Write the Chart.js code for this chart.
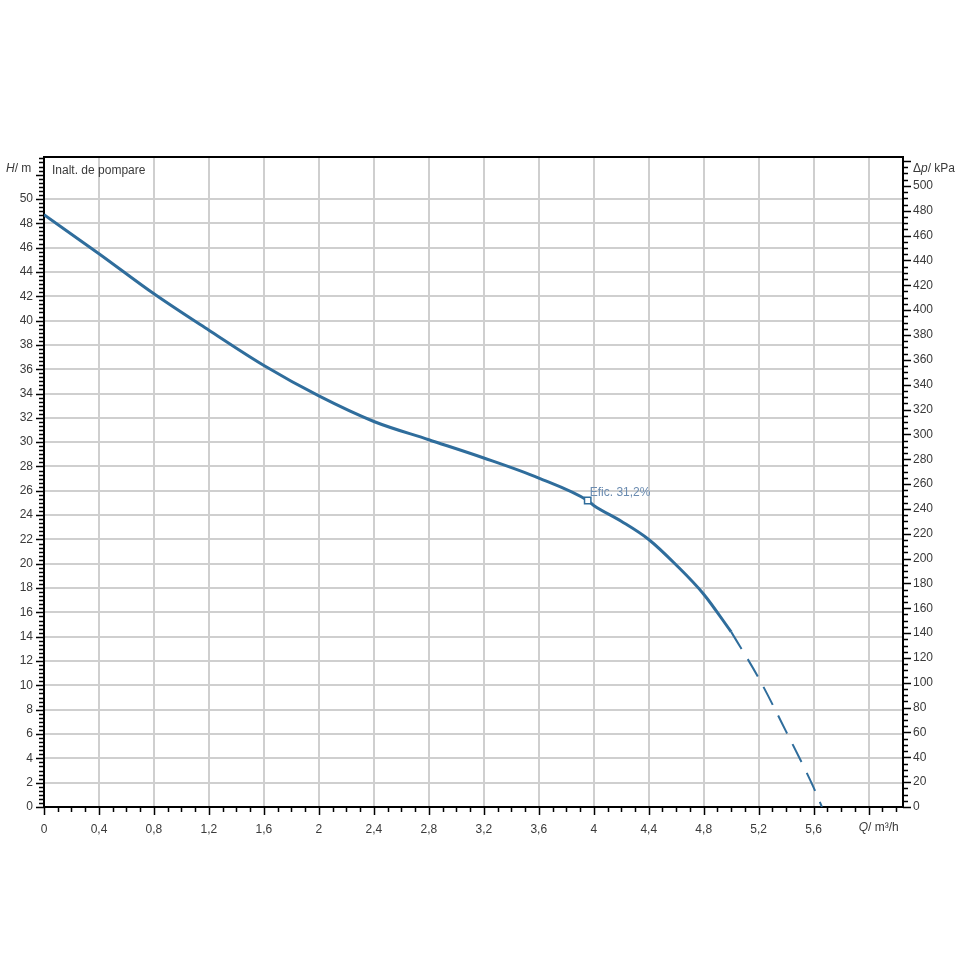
<!DOCTYPE html>
<html><head><meta charset="utf-8">
<script src="https://cdn.jsdelivr.net/npm/chart.js@4"></script>
<style>html,body{margin:0;padding:0;background:#fff}</style>
</head><body>
<canvas id="c" width="960" height="960"></canvas>
<script>
// ---- data ----
const qSolid = [0, 0.4, 0.8, 1.2, 1.6, 2.0, 2.4, 2.8, 3.2, 3.6, 3.956, 4.0, 4.2, 4.4, 4.6, 4.8, 5.0];
const hSolid = [48.7, 45.5, 42.2, 39.2, 36.3, 33.8, 31.7, 30.2, 28.7, 27.05, 25.2, 24.8, 23.5, 22.0, 19.9, 17.5, 14.4];
const qDashed = [5.0, 5.2, 5.4, 5.6, 5.66];
const hDashed = [14.4, 10.6, 6.2, 1.6, 0];
const markerQ = [3.956];
const markerH = [25.2];
const markerLabel = 'Efic. 31,2%';
const xTickValues = [0,0.4,0.8,1.2,1.6,2.0,2.4,2.8,3.2,3.6,4.0,4.4,4.8,5.2,5.6,6.0];
const xTickLabels = ['0','0,4','0,8','1,2','1,6','2','2,4','2,8','3,2','3,6','4','4,4','4,8','5,2','5,6',''];
const yTickValues = [0,2,4,6,8,10,12,14,16,18,20,22,24,26,28,30,32,34,36,38,40,42,44,46,48,50];
const y2TickValues = [0,20,40,60,80,100,120,140,160,180,200,220,240,260,280,300,320,340,360,380,400,420,440,460,480,500];
const KPA_PER_M = 9.79;
const X_MAX = 6.25, Y_MAX = 53.45;
const curveTitle = 'Inalt. de pompare';

const LINE = '#2f6d9c';
const FONT = {family: 'Arial, "Liberation Sans", sans-serif', size: 12};
const TXT = '#3a3a3a';

const pts = (qs, hs) => qs.map((q, i) => ({x: q, y: hs[i]}));

const decor = {
  id: 'decor',
  afterDraw(chart) {
    const ctx = chart.ctx, a = chart.chartArea;
    const x = chart.scales.x, y = chart.scales.y, y2 = chart.scales.y2;
    ctx.save();
    ctx.strokeStyle = '#000';
    ctx.lineWidth = 2;
    ctx.beginPath(); ctx.moveTo(a.left - 1, a.top); ctx.lineTo(a.right + 1, a.top); ctx.stroke();
    ctx.lineWidth = 1.5;
    ctx.beginPath();
    for (let i = 0; i * 0.1 <= X_MAX + 1e-9; i++) {
      const px = Math.round(x.getPixelForValue(i * 0.1)) + 0.5;
      const len = i % 4 === 0 ? 8 : 5;
      ctx.moveTo(px, a.bottom); ctx.lineTo(px, a.bottom + len);
    }
    for (let i = 0; i / 3 <= Y_MAX + 1e-9; i++) {
      const py = Math.round(y.getPixelForValue(i / 3)) + 0.5;
      const len = i % 6 === 0 ? 8 : 5;
      ctx.moveTo(a.left, py); ctx.lineTo(a.left - len, py);
    }
    for (let i = 0; i * 5 <= Y_MAX * KPA_PER_M + 1e-9; i++) {
      const py = Math.round(y2.getPixelForValue(i * 5)) + 0.5;
      const len = i % 4 === 0 ? 8 : 5;
      ctx.moveTo(a.right, py); ctx.lineTo(a.right + len, py);
    }
    ctx.stroke();

    ctx.textBaseline = 'middle';
    ctx.fillStyle = TXT;
    const ff = FONT.family;
    function mixed(parts, xx, yy) {
      let cx = xx;
      for (const [t, it] of parts) {
        ctx.font = (it ? 'italic ' : '') + '12px ' + ff;
        ctx.fillText(t, cx, yy);
        cx += ctx.measureText(t).width;
      }
    }
    ctx.textAlign = 'left';
    mixed([['H', true], ['/ m', false]], 6, a.top + 12);
    mixed([['Δ', false], ['p', true], ['/ kPa', false]], a.right + 10, a.top + 12);
    mixed([['Q', true], ['/ m³/h', false]], x.getPixelForValue(6.0) - 10, a.bottom + 21);
    ctx.font = '12px ' + ff;
    ctx.fillText(curveTitle, a.left + 8, a.top + 14);
    const mx = x.getPixelForValue(markerQ[0]), my = y.getPixelForValue(markerH[0]);
    ctx.fillStyle = '#6a8bb0';
    ctx.fillText(markerLabel, mx + 2, my - 8);
    ctx.restore();
  }
};

new Chart(document.getElementById('c'), {
  type: 'line',
  data: {
    datasets: [
      {data: pts(markerQ, markerH), showLine: false, pointStyle: 'rect', pointRadius: 4.5,
       pointBackgroundColor: '#fff', pointBorderColor: LINE, pointBorderWidth: 1.5, order: 0},
      {data: pts(qSolid, hSolid), borderColor: LINE, borderWidth: 3, pointRadius: 0,
       cubicInterpolationMode: 'monotone', fill: false, order: 1},
      {data: pts(qDashed, hDashed), borderColor: LINE, borderWidth: 2, borderDash: [20, 12],
       pointRadius: 0, cubicInterpolationMode: 'monotone', fill: false, order: 1}
    ]
  },
  options: {
    responsive: false,
    animation: false,
    events: [],
    layout: {padding: {top: 157, bottom: 120, left: 0, right: 0}},
    plugins: {legend: {display: false}, tooltip: {enabled: false}},
    scales: {
      x: {
        type: 'linear', min: 0, max: X_MAX,
        afterBuildTicks: s => { s.ticks = xTickValues.map(v => ({value: v})); },
        afterFit: s => { s.height = 33; },
        ticks: {callback: (v, i) => xTickLabels[i], maxRotation: 0, autoSkip: false,
                padding: 15, font: FONT, color: TXT},
        grid: {color: '#cfcfcf', lineWidth: 2, drawTicks: false},
        border: {color: '#000', width: 2}
      },
      y: {
        position: 'left', min: 0, max: Y_MAX,
        afterBuildTicks: s => { s.ticks = yTickValues.map(v => ({value: v})); },
        afterFit: s => { s.width = 44; },
        ticks: {callback: v => String(v), padding: 11, font: FONT, color: TXT},
        grid: {color: '#cfcfcf', lineWidth: 2, drawTicks: false},
        border: {color: '#000', width: 2}
      },
      y2: {
        position: 'right', min: 0, max: Y_MAX * KPA_PER_M,
        afterBuildTicks: s => { s.ticks = y2TickValues.map(v => ({value: v})); },
        afterFit: s => { s.width = 57; },
        ticks: {callback: v => String(v), padding: 10, font: FONT, color: TXT},
        grid: {drawOnChartArea: false, drawTicks: false},
        border: {color: '#000', width: 2}
      }
    }
  },
  plugins: [decor]
});
</script>
</body></html>
